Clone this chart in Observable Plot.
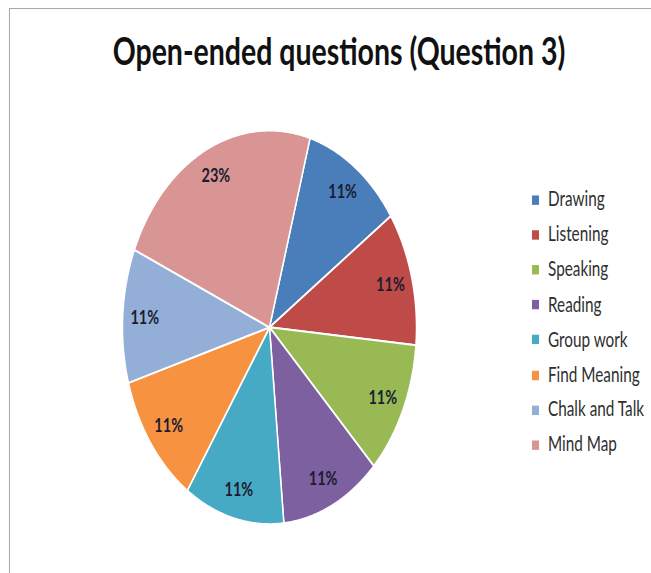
<!DOCTYPE html>
<html>
<head>
<meta charset="utf-8">
<script src="https://cdn.jsdelivr.net/npm/d3@7"></script>
<script src="https://cdn.jsdelivr.net/npm/@observablehq/plot@0.6"></script>
<style>
  html, body { margin: 0; padding: 0; background: #fff; }
  #wrap { position: relative; width: 651px; height: 573px; overflow: hidden; background: #fff; }
  #frame { position: absolute; left: 9px; top: 8px; right: -10px; bottom: -10px;
           border-top: 1.5px solid #a8a8a8; border-left: 1.5px solid #a8a8a8; }
  #stretch { position: absolute; left: 0; top: 0; width: 651px; height: 428px;
             transform: scaleY(1.3388); transform-origin: 0 0; }
  #legend { position: absolute; left: 532px; top: 135px; font-family: Lato, sans-serif;
            font-size: 15.3px; color: #2f2f2f; }
  .row { height: 26.2px; line-height: 26.2px; white-space: nowrap; }
  .sw { display: inline-block; width: 7px; height: 7px; margin-right: 9px; vertical-align: middle; position: relative; top: -1px; }
</style>
</head>
<body>
<div id="wrap">
  <div id="frame"></div>
  <div id="stretch">
    <div id="chart"></div>
    <div id="legend"></div>
  </div>
</div>
<script>
const title = "Open-ended questions (Question 3)";
const categories = ["Drawing", "Listening", "Speaking", "Reading", "Group work", "Find Meaning", "Chalk and Talk", "Mind Map"];
const values = [11, 11, 11, 11, 11, 11, 11, 23];
const labels = ["11%", "11%", "11%", "11%", "11%", "11%", "11%", "23%"];
const colors = ["#4a7ebb", "#be4b48", "#98b954", "#7d60a0", "#46aac5", "#f69240", "#93afd8", "#d99594"];
const startAngle = 16; // degrees clockwise from 12 o'clock

// Build slice outlines (unit circle; the scales turn them into pixels)
const total = d3.sum(values);
const rad = Math.PI / 180;
const points = [];
const labelData = [];
let acc = startAngle;
categories.forEach((cat, i) => {
  const a0 = acc, a1 = acc + values[i] / total * 360;
  points.push({cat, x: 0, y: 0});
  for (let t = a0; t < a1; t += 0.5) points.push({cat, x: Math.sin(t * rad), y: Math.cos(t * rad)});
  points.push({cat, x: Math.sin(a1 * rad), y: Math.cos(a1 * rad)});
  points.push({cat, x: 0, y: 0});
  const m = (a0 + a1) / 2;
  labelData.push({cat, text: labels[i], x: 0.85 * Math.sin(m * rad), y: 0.85 * Math.cos(m * rad)});
  acc = a1;
});

const chart = Plot.plot({
  width: 651,
  height: 428,
  margin: 0,
  style: {fontFamily: "Lato, sans-serif", background: "transparent", overflow: "visible"},
  x: {domain: [-1, 1], range: [122, 416], axis: null},
  y: {domain: [-1, 1], range: [391, 97], axis: null},
  color: {domain: categories, range: colors},
  marks: [
    Plot.line(points, {x: "x", y: "y", z: "cat", fill: "cat", stroke: "white", strokeWidth: 1.5, strokeLinejoin: "round", curve: "linear"}),
    Plot.text(labelData, {x: "x", y: "y", text: "text", fill: "#1c1c30", fontSize: 14.5, fontWeight: "bold"}),
    Plot.text([title], {frameAnchor: "top", dx: 13, dy: 28, text: d => d, fontSize: 28.5, fontWeight: "bold", fill: "#111"})
  ]
});
document.getElementById("chart").appendChild(chart);

const legend = document.getElementById("legend");
categories.forEach((cat, i) => {
  const row = document.createElement("div");
  row.className = "row";
  const sw = document.createElement("span");
  sw.className = "sw";
  sw.style.background = colors[i];
  row.appendChild(sw);
  row.appendChild(document.createTextNode(cat));
  legend.appendChild(row);
});
</script>
</body>
</html>
